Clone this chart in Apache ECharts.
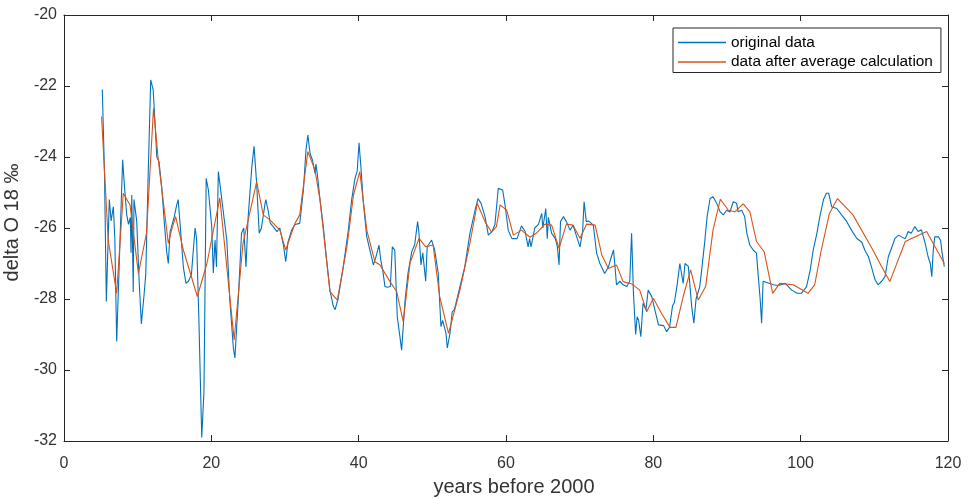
<!DOCTYPE html>
<html>
<head>
<meta charset="utf-8">
<script src="https://cdn.jsdelivr.net/npm/echarts@6/dist/echarts.min.js"></script>
<style>
  html, body { margin: 0; padding: 0; background: #fff; }
  #chart { width: 969px; height: 499px; }
</style>
</head>
<body>
<div id="chart"></div>
<script>
// delta O-18 record, years before 2000
const origYears = [
  5.2, 5.5, 5.75, 6.15, 6.4, 6.7, 6.9, 7.15, 7.5, 7.96, 8.2, 8.5, 8.75, 9.0, 9.1, 9.2, 9.4, 9.5, 9.87, 10.2,
  10.5, 10.86, 11.1, 11.45, 11.77, 12.1, 12.35, 12.6, 12.9, 13.26, 13.6, 13.94, 14.16, 14.4, 14.6, 14.95, 15.3, 15.5, 15.75, 16.2,
  16.56, 16.9, 17.3, 17.6, 17.8, 18.0, 18.3, 18.7, 19.0, 19.3, 19.6, 20.05, 20.27, 20.5, 20.7, 20.95, 21.1, 21.6, 22.1, 22.5,
  23.0, 23.2, 23.66, 24.1, 24.4, 24.7, 25.0, 25.5, 25.8, 26.15, 26.5, 26.8, 27.3, 27.4, 27.7, 28.0, 28.4, 28.9, 29.3, 29.8,
  30.1, 30.4, 30.9, 31.35, 32.0, 32.5, 32.85, 33.1, 33.4, 33.75, 34.07, 34.2, 34.4, 34.75, 35.2, 35.65, 36.1, 36.55, 36.8, 37.2,
  37.9, 38.6, 39.05, 39.5, 39.8, 40.05, 40.3, 40.6, 41.1, 41.5, 42.0, 42.3, 42.76, 43.0, 43.26, 43.57, 43.9, 44.3, 44.57, 44.9,
  45.24, 45.6, 45.83, 46.3, 46.7, 47.2, 47.6, 48.0, 48.17, 48.46, 48.7, 48.9, 49.1, 49.3, 49.9, 50.3, 50.8, 51.17, 51.4, 51.85,
  52.03, 52.4, 52.7, 53.0, 53.75, 54.4, 55.1, 55.8, 56.2, 56.6, 57.15, 57.6, 58.1, 58.5, 58.95, 59.55, 59.9, 60.3, 60.8, 61.5,
  62.1, 62.6, 63.0, 63.2, 63.4, 63.9, 64.4, 64.85, 65.0, 65.4, 65.6, 65.75, 66.2, 66.7, 66.97, 67.2, 67.4, 67.8, 68.2, 68.7,
  69.1, 69.6, 70.04, 70.4, 70.6, 70.9, 71.2, 71.85, 72.3, 72.75, 73.4, 73.9, 74.3, 74.6, 74.8, 75.0, 75.45, 75.9, 76.4, 76.8,
  77.05, 77.3, 77.6, 77.8, 78.0, 78.3, 78.6, 79.0, 79.3, 79.8, 80.2, 80.7, 81.4, 81.8, 82.2, 82.6, 82.85, 83.2, 83.6, 83.8,
  84.05, 84.3, 84.75, 85.2, 85.5, 85.8, 86.3, 86.5, 87.0, 87.3, 87.7, 88.1, 88.6, 89.05, 89.5, 89.95, 90.4, 90.85, 91.3, 91.5,
  92.0, 92.4, 92.7, 93.1, 93.55, 94.0, 94.25, 94.5, 94.7, 94.9, 95.6, 96.3, 97.0, 97.9, 98.8, 99.5, 100.1, 100.8, 101.3, 101.7,
  102.2, 102.6, 103.1, 103.5, 103.8, 104.2, 104.9, 105.55, 106.2, 106.9, 107.6, 108.3, 108.7, 109.2, 109.6, 110.1, 110.5, 111.0, 111.45, 111.9,
  112.4, 112.8, 113.3, 113.7, 114.2, 114.6, 115.0, 115.5, 115.95, 116.4, 116.9, 117.3, 117.6, 117.8, 118.0, 118.2, 118.7, 119.0, 119.2, 119.5
];
const origDelta = [
  -22.1, -24.5, -28.07, -25.2, -25.8, -25.4, -26.3, -29.2, -27.0, -24.08, -24.8, -25.6, -25.9, -25.7, -26.7, -25.07, -27.8, -25.2, -25.8, -27.5,
  -28.7, -27.9, -27.3, -24.3, -21.83, -22.1, -23.0, -24.0, -24.13, -24.84, -25.8, -26.67, -27.0, -26.1, -25.96, -25.7, -25.35, -25.2, -25.87, -27.1,
  -27.56, -27.5, -27.3, -26.5, -26.0, -26.3, -28.5, -31.9, -30.6, -24.6, -24.93, -25.96, -27.27, -26.34, -27.1, -24.41, -24.65, -25.5, -26.34, -28.0,
  -29.4, -29.66, -28.0, -26.15, -26.0, -27.1, -25.68, -24.27, -23.7, -24.74, -26.15, -26.0, -25.3, -25.2, -25.5, -25.86, -25.96, -26.1, -26.0, -26.5,
  -26.95, -26.4, -26.06, -25.9, -25.87, -24.93, -23.8, -23.38, -23.9, -24.1, -24.46, -24.2, -24.5, -25.2, -25.96, -26.9, -27.75, -28.2, -28.3, -28.0,
  -27.1, -26.06, -25.2, -24.6, -24.4, -23.6, -24.27, -25.2, -26.25, -26.6, -27.04, -26.85, -26.48, -26.9, -27.18, -27.65, -27.67, -27.65, -26.53, -26.62,
  -28.5, -29.06, -29.44, -28.03, -27.27, -26.67, -26.48, -25.82, -26.1, -27.04, -26.7, -26.7, -27.5, -26.53, -26.34, -26.6, -27.27, -28.78, -28.6, -28.96,
  -29.38, -28.96, -28.36, -28.3, -27.65, -27.1, -26.15, -25.5, -25.17, -25.3, -25.68, -26.2, -26.1, -25.9, -24.88, -24.93, -25.4, -26.06, -26.3, -26.3,
  -25.94, -26.1, -26.53, -26.3, -26.53, -26.0, -25.9, -25.59, -26.0, -25.45, -26.3, -25.7, -26.15, -26.3, -26.53, -27.04, -25.82, -25.68, -25.82, -26.06,
  -25.92, -26.25, -26.53, -26.1, -25.26, -25.82, -25.8, -25.92, -26.71, -27.0, -27.28, -27.1, -26.81, -26.62, -27.1, -27.6, -27.5, -27.6, -27.65, -27.5,
  -26.15, -27.84, -29.0, -28.5, -28.6, -29.06, -28.12, -28.3, -27.75, -27.94, -28.3, -28.73, -28.75, -28.92, -28.8, -28.2, -28.1, -27.65, -27.0, -27.0,
  -27.56, -27.0, -27.08, -28.2, -28.68, -28.0, -27.65, -27.3, -26.34, -25.68, -25.17, -25.12, -25.3, -25.54, -25.63, -25.5, -25.55, -25.26, -25.3, -25.54,
  -25.5, -25.68, -26.15, -26.48, -26.62, -26.71, -27.37, -28.0, -28.68, -27.5, -27.55, -27.6, -27.62, -27.56, -27.75, -27.84, -27.84, -27.65, -27.18, -26.62,
  -26.15, -25.68, -25.2, -25.02, -25.02, -25.4, -25.45, -25.63, -25.8, -26.06, -26.29, -26.4, -26.62, -26.81, -27.09, -27.46, -27.6, -27.5, -27.37, -26.81,
  -26.53, -26.29, -26.2, -26.25, -26.3, -26.1, -26.15, -25.96, -26.1, -26.05, -26.43, -26.81, -27.0, -27.37, -26.62, -26.25, -26.25, -26.35, -26.71, -27.09
];

// block-averaged series
const avgYears = [
  5.1, 6.0, 7.15, 8.05, 8.96, 10.1, 11.2, 12.15, 12.8, 14.16, 14.6, 15.15, 16.2, 18.1, 19.4, 21.15, 23.1, 24.3, 26.15, 27.05,
  27.95, 29.3, 30.1, 31.35, 32.0, 33.1, 34.07, 34.75, 36.1, 37.1, 38.4, 39.3, 40.15, 41.1, 42.2, 42.9, 44.25, 45.16, 46.05, 46.97,
  48.2, 49.1, 50.1, 51.0, 52.2, 53.75, 55.1, 56.1, 57.15, 58.05, 58.7, 59.2, 60.1, 61.0, 62.1, 63.26, 64.1, 65.3, 66.2, 67.2,
  68.2, 69.1, 70.05, 70.95, 72.1, 73.0, 73.9, 75.0, 75.9, 77.1, 78.15, 79.1, 80.0, 81.1, 82.26, 83.07, 84.05, 85.06, 86.1, 87.1,
  88.1, 89.1, 90.2, 91.1, 92.2, 93.1, 94.0, 95.05, 96.2, 97.15, 99.0, 101.0, 101.9, 102.8, 103.9, 105.0, 107.1, 109.8, 111.0, 112.1,
  114.2, 117.1, 119.5
];
const avgDelta = [
  -22.86, -26.34, -27.84, -25.02, -25.35, -27.28, -26.15, -22.63, -24.08, -26.43, -26.06, -25.68, -26.62, -27.93, -27.0, -25.15, -29.15, -26.43, -24.7, -25.63,
  -25.77, -26.06, -26.62, -25.87, -25.63, -23.85, -24.37, -25.2, -27.79, -28.03, -26.53, -25.07, -24.41, -26.06, -26.95, -27.04, -27.51, -27.79, -28.64, -26.99,
  -26.29, -26.53, -26.48, -27.93, -28.97, -27.75, -26.43, -25.31, -25.82, -26.12, -25.96, -25.35, -25.5, -26.2, -26.06, -26.26, -26.15, -25.89, -25.92, -26.57,
  -25.89, -25.92, -26.29, -25.89, -25.92, -26.76, -27.14, -27.04, -27.51, -27.58, -27.75, -28.36, -27.98, -28.4, -28.8, -28.8, -27.93, -27.18, -28.03, -27.65,
  -26.06, -25.19, -25.5, -25.54, -25.32, -25.54, -26.38, -26.67, -27.84, -27.56, -27.6, -27.84, -27.6, -26.62, -25.59, -25.17, -25.63, -26.62, -27.09, -27.51,
  -26.38, -26.1, -27.0
];

const xTicks = { min: 0, max: 120, step: 20 };
const yTicks = { min: -32, max: -20, step: 2 };

const seriesNames = ['original data', 'data after average calculation'];

const toPairs = (xs, ys) => xs.map((x, i) => [x, ys[i]]);

const axisColor = '#262626';
const labelColor = '#333333';
const fontFamily = '"Liberation Sans", Arial, Helvetica, sans-serif';

// an axis drawn as one side of the closed plot box, ticks pointing inward
const boxAxis = (extra) => Object.assign({
  type: 'value',
  axisLine: { show: true, onZero: false, lineStyle: { color: axisColor, width: 1 } },
  axisTick: { show: true, inside: true, length: 6, lineStyle: { color: axisColor } },
  splitLine: { show: false }
}, extra);

const chart = echarts.init(document.getElementById('chart'), null, { renderer: 'canvas' });

chart.setOption({
  animation: false,
  backgroundColor: '#ffffff',
  grid: { left: 64, right: 21, top: 15, bottom: 58, containLabel: false, outerBoundsMode: 'none' },
  legend: {
    orient: 'vertical',
    left: 673,
    top: 28,
    icon: 'rect',
    itemWidth: 48,
    itemHeight: 1.3,
    itemGap: 4.5,
    padding: [7, 8, 3, 5],
    backgroundColor: '#ffffff',
    borderColor: axisColor,
    borderWidth: 1,
    borderRadius: 0,
    textStyle: { fontFamily, fontSize: 15.4, color: '#000' },
    data: seriesNames
  },
  xAxis: [
    boxAxis({
      min: xTicks.min, max: xTicks.max, interval: xTicks.step,
      position: 'bottom',
      axisLabel: { color: labelColor, fontFamily, fontSize: 16, margin: 15 },
      name: 'years before 2000',
      nameLocation: 'middle',
      nameGap: 36,
      nameTextStyle: { color: labelColor, fontFamily, fontSize: 20, padding: [0, 0, 0, 16] }
    }),
    boxAxis({
      min: xTicks.min, max: xTicks.max, interval: xTicks.step,
      position: 'top',
      axisLabel: { show: false }
    })
  ],
  yAxis: [
    boxAxis({
      min: yTicks.min, max: yTicks.max, interval: yTicks.step,
      position: 'left',
      axisLabel: { color: labelColor, fontFamily, fontSize: 16, margin: 7 },
      name: 'delta O 18 ‰',
      nameLocation: 'middle',
      nameGap: 34,
      nameTextStyle: { color: labelColor, fontFamily, fontSize: 20, padding: [0, 0, 0, 11] }
    }),
    boxAxis({
      min: yTicks.min, max: yTicks.max, interval: yTicks.step,
      position: 'right',
      axisLabel: { show: false }
    })
  ],
  series: [
    {
      name: seriesNames[0],
      type: 'line',
      data: toPairs(origYears, origDelta),
      symbol: 'none',
      lineStyle: { color: '#0072BD', width: 1.1 },
      itemStyle: { color: '#0072BD' },
      z: 2
    },
    {
      name: seriesNames[1],
      type: 'line',
      data: toPairs(avgYears, avgDelta),
      symbol: 'none',
      lineStyle: { color: '#D95319', width: 1.1 },
      itemStyle: { color: '#D95319' },
      z: 3
    }
  ]
});
</script>
</body>
</html>
